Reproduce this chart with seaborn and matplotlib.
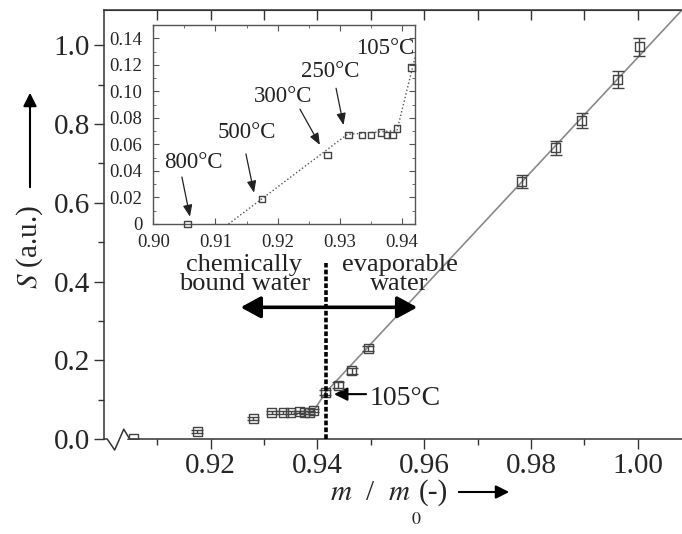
import numpy as np
import matplotlib
matplotlib.use('Agg')
import matplotlib.pyplot as plt
import seaborn as sns


# values
m_ratio = [0.9055, 0.9175, 0.9280, 0.9314, 0.9336, 0.9350, 0.9366, 0.9376, 0.9385, 0.9392,
           0.9415, 0.9439, 0.9464, 0.9495, 0.9783, 0.9846, 0.9895, 0.9963, 1.0003]
S = [0.000, 0.019, 0.052, 0.067, 0.067, 0.067, 0.069, 0.067, 0.067, 0.072,
     0.118, 0.137, 0.173, 0.230, 0.654, 0.740, 0.810, 0.914, 0.997]
S_err = [0.0, 0.003, 0.003, 0.003, 0.003, 0.003, 0.003, 0.003, 0.003, 0.003,
         0.006, 0.007, 0.007, 0.007, 0.017, 0.018, 0.019, 0.021, 0.023]
n_inset = 11  # points shown in the inset (up to 105 C)

fit_x = [0.9392, 0.9415, 1.0083]
fit_S = [0.070, 0.118, 1.09]
inset_fit_x = [0.9121, 0.9312, 0.9392, 0.9424]
inset_fit_S = [0.0, 0.0675, 0.0705, 0.131]
boundary_x = 0.9416

x_major = [0.92, 0.94, 0.96, 0.98, 1.00]
x_minor = [0.91, 0.93, 0.95, 0.97, 0.99]
y_major = [0.0, 0.2, 0.4, 0.6, 0.8, 1.0]
y_minor = [0.1, 0.3, 0.5, 0.7, 0.9]
inset_x_ticks = [0.90, 0.91, 0.92, 0.93, 0.94]
inset_y_ticks = [0, 0.02, 0.04, 0.06, 0.08, 0.10, 0.12, 0.14]
inset_y_labels = ['0', '0.02', '0.04', '0.06', '0.08', '0.10', '0.12', '0.14']

temp_labels = ['800°C', '500°C', '300°C', '250°C', '105°C']

sns.set_style('ticks')
plt.rcParams['font.family'] = ['Liberation Serif', 'DejaVu Serif']
plt.rcParams['mathtext.fontset'] = 'stix'

fig = plt.figure(figsize=(6.82, 5.34), dpi=100)
ax = fig.add_axes([104/682, 95/534, 578/682, 429/534])

line_col = '#8a8a8a'
mark_col = '#444444'

#main plot
sns.lineplot(x=fit_x, y=fit_S, ax=ax, color=line_col, lw=1.2, errorbar=None)
ax.errorbar(m_ratio, S, yerr=S_err, fmt='none', ecolor=mark_col, elinewidth=1, capsize=4, zorder=3)
sns.scatterplot(x=m_ratio, y=S, ax=ax, marker='s', s=42, facecolor='none',
                edgecolor=mark_col, linewidth=1, zorder=4)
ax.plot([boundary_x, boundary_x], [0, 0.446], color='black', lw=2.6, dashes=(1.3, 0.6), zorder=5)

ax.set_xlim(0.90, 1.0083)
ax.set_ylim(0, 1.09)
ax.set_xticks(x_major, [f'{v:.2f}' for v in x_major])
ax.set_xticks(x_minor, minor=True)
ax.set_yticks(y_major, [f'{v:.1f}' for v in y_major])
ax.set_yticks(y_minor, minor=True)
ax.tick_params(which='both', direction='out', width=1, color='#333', labelsize=21, pad=3)
ax.tick_params(which='major', length=7)
ax.tick_params(which='minor', length=4)
ax.set_xlabel('')
ax.set_ylabel('')
ax.spines['right'].set_visible(False)
for sp in ['left', 'bottom', 'top']:
    ax.spines[sp].set_color('#333')
    ax.spines[sp].set_linewidth(1.1)
ax.spines['bottom'].set_bounds(0.9048, 1.0083)
# axis break on the x axis
ax.plot([0.900, 0.9006, 0.9020, 0.9037, 0.9048], [0, 0, -0.028, 0.025, 0],
        color='#333', lw=1.1, clip_on=False)

top = ax.secondary_xaxis('top')
top.set_xticks(sorted(x_major + x_minor), [])
top.tick_params(direction='in', length=7, width=1, color='#333')
top.spines['top'].set_color('#333')

ax.annotate('', xy=(0.9256, 0.3346), xytext=(0.9587, 0.3346),
            arrowprops=dict(arrowstyle='<|-|>,head_length=0.55,head_width=0.3', lw=2.6,
                            color='black', mutation_scale=22, shrinkA=0, shrinkB=0))
ax.text(0.9263, 0.418, 'chemically\nbound water', ha='center', va='center',
        fontsize=19, linespacing=0.85, color='#222')
ax.text(0.9554, 0.418, 'evaporable\nwater', ha='center', va='center',
        fontsize=19, linespacing=0.85, color='#222')
ax.annotate('', xy=(0.9431, 0.114), xytext=(0.9491, 0.114),
            arrowprops=dict(arrowstyle='-|>,head_length=0.5,head_width=0.25', lw=1.5,
                            color='black', mutation_scale=16, shrinkA=0, shrinkB=0))
ax.text(0.9497, 0.104, '105°C', ha='left', va='center', fontsize=20, color='#222')

# axis titles with arrows
fig.text(30/682, 1 - 247/534, '$S$ (a.u.)', rotation=90, fontsize=21, ha='center', va='center')
fig.add_artist(matplotlib.patches.FancyArrowPatch((30, 534 - 190), (30, 534 - 90),
               transform=None, arrowstyle='-|>,head_length=0.5,head_width=0.25',
               mutation_scale=16, lw=1.5, color='black'))
fig.text(330/682, 1 - 493/534, '$m$  /  $m$', fontsize=21, ha='left', va='center')
fig.text(411/682, 1 - 519/534, '$0$', fontsize=13, ha='left', va='center')
fig.text(419/682, 1 - 493/534, '(-)', fontsize=21, ha='left', va='center')
fig.add_artist(matplotlib.patches.FancyArrowPatch((456, 534 - 492), (512, 534 - 492),
               transform=None, arrowstyle='-|>,head_length=0.5,head_width=0.25',
               mutation_scale=16, lw=1.5, color='black'))

# inset
axin = fig.add_axes([153.3/682, (534 - 224)/534, 261.7/682, 199/534])
sns.lineplot(x=inset_fit_x, y=inset_fit_S, ax=axin, color='#555', lw=1, linestyle=':', errorbar=None)
sns.scatterplot(x=m_ratio[:n_inset], y=S[:n_inset], ax=axin, marker='s', s=22,
                facecolor='none', edgecolor=mark_col, linewidth=1, zorder=4, clip_on=False)
axin.set_xlim(0.90, 0.9421)
axin.set_ylim(0, 0.15)
axin.set_xticks(inset_x_ticks, [f'{v:.2f}' for v in inset_x_ticks])
axin.set_xticks([0.905, 0.915, 0.925, 0.935], minor=True)
axin.set_yticks(inset_y_ticks, inset_y_labels)
axin.set_yticks([0.01, 0.03, 0.05, 0.07, 0.09, 0.11, 0.13], minor=True)
axin.tick_params(which='both', direction='in', top=True, right=True, color='#555',
                 labelsize=13.5)
axin.tick_params(axis='y', which='both', pad=8)
axin.tick_params(axis='x', which='both', pad=7)
axin.tick_params(which='major', length=4)
axin.tick_params(which='minor', length=2.5)
for sp in axin.spines.values():
    sp.set_color('#555')
    sp.set_linewidth(1)

# temperature labels and their arrows in the inset
label_pos = [(0.9064, 0.046), (0.9150, 0.0686), (0.9209, 0.0960), (0.9285, 0.1148), (0.9373, 0.1325)]
arrow_tail = [(0.9046, 0.0354), (0.9149, 0.0528), (0.9236, 0.0865), (0.9294, 0.1023)]
arrow_tip = [(0.9059, 0.0055), (0.9162, 0.0236), (0.9268, 0.0596), (0.9306, 0.0746)]
for lab, pos in zip(temp_labels, label_pos):
    axin.text(pos[0], pos[1], lab, ha='center', va='center', fontsize=16.5, color='#222')
for tail, tip in zip(arrow_tail, arrow_tip):
    axin.annotate('', xy=tip, xytext=tail,
                  arrowprops=dict(arrowstyle='-|>,head_length=0.5,head_width=0.2', lw=0.9,
                                  color='#222', mutation_scale=14, shrinkA=0, shrinkB=0))

plt.savefig('out.png', dpi=100)
